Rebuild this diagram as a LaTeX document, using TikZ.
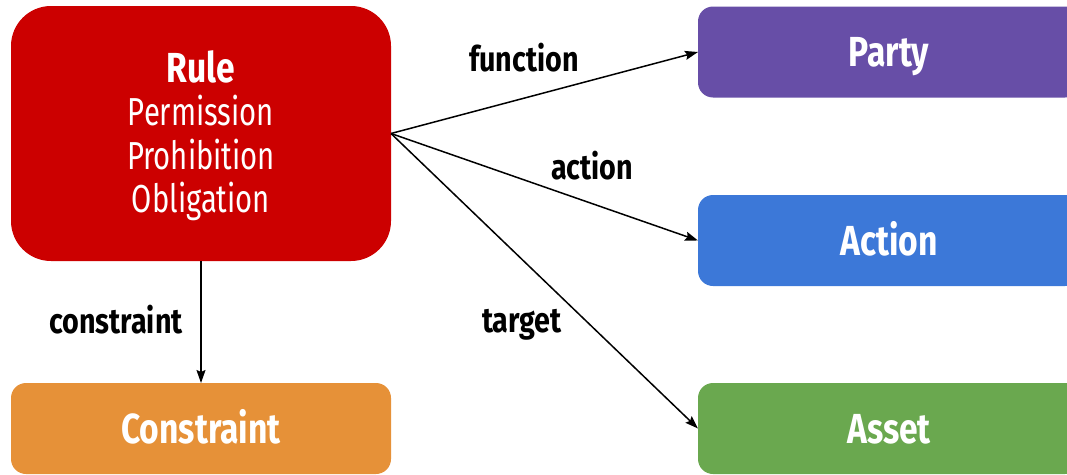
\documentclass[tikz,border=0pt]{standalone}
\usepackage{fontspec}
\setmainfont{Fira Sans}[FakeStretch=0.8]
\newfontfamily\subfont{Fira Sans}[FakeStretch=0.75]
\newfontfamily\lblfont{Fira Sans}[FakeStretch=0.82]
\usetikzlibrary{arrows.meta}
\definecolor{rulered}{HTML}{CC0000}
\definecolor{partypurple}{HTML}{674EA7}
\definecolor{actionblue}{HTML}{3C78D8}
\definecolor{assetgreen}{HTML}{6AA84F}
\definecolor{constraintorange}{HTML}{E69138}
\tikzset{
  box/.style={rectangle, rounded corners=15pt, inner sep=0pt, outer sep=0pt,
    text=white, font=\bfseries\fontsize{42}{46}\selectfont, align=center},
  flatbox/.style={box, minimum height=91pt, text height=29pt, text depth=0pt},
  sidebox/.style={flatbox, minimum width=382pt, anchor=west},
  lbl/.style={font=\lblfont\bfseries\fontsize{35}{38}\selectfont, text=black, inner sep=0pt},
  arr/.style={line width=1.5pt, -{Stealth[length=13pt,width=9pt,inset=2pt]}},
}
\begin{document}
\begin{tikzpicture}[x=1pt,y=-1pt]
  \useasboundingbox (0,0) rectangle (1067,474);
  \clip (0,0) rectangle (1067,474);

  % main rule box with its kinds listed below the title
  \node[box, fill=rulered, rounded corners=40pt, minimum width=380pt, minimum height=255pt,
    label={[name=ruletext, text=white, align=center, inner sep=0pt, yshift=-2pt,
            font=\subfont\fontsize{39}{43.5}\selectfont]center:
      {\rmfamily\bfseries\fontsize{42}{43.5}\selectfont Rule}\\
      Permission\\
      Prohibition\\
      Obligation}]
    (rule) at (201,133.5) {};

  % constraint box
  \node[flatbox, fill=constraintorange, minimum width=380pt]
    (constraint) at (201,428.5) {Constraint};

  % target boxes on the right
  \node[sidebox, fill=partypurple] (party) at (698,52) {Party};
  \node[sidebox, fill=actionblue] (action) at (698,240.5) {Action};
  \node[sidebox, fill=assetgreen] (asset) at (698,428.5) {Asset};

  % connectors
  \draw[arr] (rule.east) -- (party.west);
  \draw[arr] (rule.east) -- (action.west);
  \draw[arr] (rule.east) -- (asset.west);
  \draw[arr] (rule.south) -- (constraint.north);

  % connector labels
  \node[lbl] (lfunction) at (524,58) {function};
  \node[lbl] (laction) at (592,166) {action};
  \node[lbl] (ltarget) at (522,325) {target};
  \node[lbl] (lconstraint) at (116,320) {constraint};
\end{tikzpicture}
\end{document}
